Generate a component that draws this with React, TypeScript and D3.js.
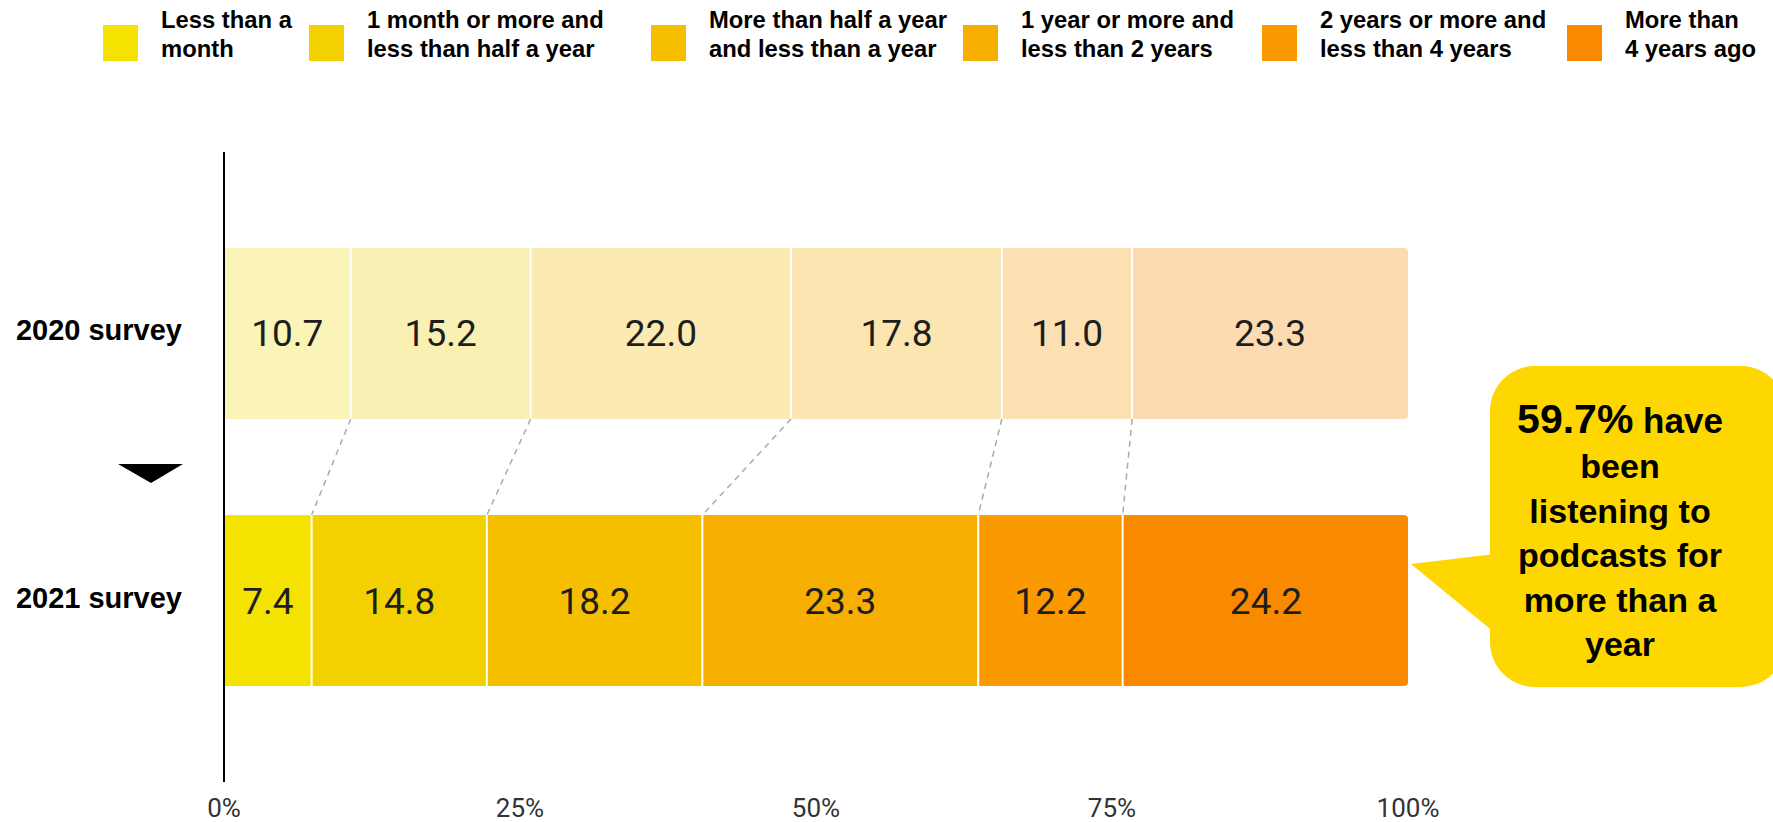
import React from "react";
import * as d3 from "d3";

const CATEGORIES = ["2020 survey", "2021 survey"];
const SERIES = [
  "Less than a month",
  "1 month or more and less than half a year",
  "More than half a year and less than a year",
  "1 year or more and less than 2 years",
  "2 years or more and less than 4 years",
  "More than 4 years ago",
];
const LEGEND_LINES = [
  ["Less than a", "month"],
  ["1 month or more and", "less than half a year"],
  ["More than half a year", "and less than a year"],
  ["1 year or more and", "less than 2 years"],
  ["2 years or more and", "less than 4 years"],
  ["More than", "4 years ago"],
];
const VALUES_2020 = [10.7, 15.2, 22.0, 17.8, 11.0, 23.3];
const VALUES_2021 = [7.4, 14.8, 18.2, 23.3, 12.2, 24.2];
const TICKS = [0, 25, 50, 75, 100];
const CALLOUT_LINES = ["been", "listening to", "podcasts for", "more than a", "year"];

const COLORS_2021 = ["#F4E200", "#F3D100", "#F5BF00", "#F6AF00", "#FA9A00", "#F98A00"];
const COLORS_2020 = ["#FAF4B6", "#FAF0B4", "#FBEBB3", "#FBE6B2", "#FCE0B2", "#FCDBB2"];

const W = 1773;
const H = 822;
const LEGEND_X = [103, 309, 651, 963, 1262, 1567];
const CALLOUT_CX = 1620;

export default function App() {
  const x = d3.scaleLinear().domain([0, 100]).range([224, 1408]);
  const y = d3.scaleBand().domain(CATEGORIES).range([248, 686]).paddingInner(0.36).paddingOuter(0);
  const bw = y.bandwidth();
  const allValues = [VALUES_2020, VALUES_2021];
  const allColors = [COLORS_2020, COLORS_2021];

  const stacks = allValues.map((vals) => {
    let c = 0;
    return vals.map((v) => {
      const s = c;
      c += v;
      return { v, s, e: c };
    });
  });

  const y20 = y(CATEGORIES[0])!;
  const y21 = y(CATEGORIES[1])!;

  return (
    <svg width={W} height={H} style={{ position: "absolute", left: 0, top: 0, background: "#fff" }}>
      <defs>
        {CATEGORIES.map((c, i) => (
          <clipPath id={`clip${i}`} key={c}>
            <rect x={x(0) - 10} y={y(c)} width={x(100) - x(0) + 10} height={bw} rx={4} />
          </clipPath>
        ))}
      </defs>

      {/* legend */}
      {SERIES.map((s, i) => (
        <g key={s}>
          <rect x={LEGEND_X[i]} y={25} width={35} height={36} fill={COLORS_2021[i]} />
          <text
            fontFamily="'Liberation Sans', Arial, sans-serif"
            fontWeight="bold"
            fontSize={23.8}
            fill="#000"
          >
            <tspan x={LEGEND_X[i] + 58} y={28}>{LEGEND_LINES[i][0]}</tspan>
            <tspan x={LEGEND_X[i] + 58} y={57}>{LEGEND_LINES[i][1]}</tspan>
          </text>
        </g>
      ))}

      {/* bars */}
      {CATEGORIES.map((c, ci) => (
        <g key={c} clipPath={`url(#clip${ci})`}>
          {stacks[ci].map((d, i) => (
            <rect
              key={i}
              x={x(d.s)}
              y={y(c)}
              width={x(d.e) - x(d.s)}
              height={bw}
              fill={allColors[ci][i]}
            />
          ))}
          {stacks[ci].slice(0, -1).map((d, i) => (
            <line
              key={"sep" + i}
              x1={x(d.e)}
              x2={x(d.e)}
              y1={y(c)}
              y2={y(c)! + bw}
              stroke="#fff"
              strokeWidth={2}
            />
          ))}
        </g>
      ))}

      {/* value labels */}
      {CATEGORIES.map((c, ci) =>
        stacks[ci].map((d, i) => (
          <text
            key={c + i}
            x={(x(d.s) + x(d.e)) / 2}
            y={y(c)! + bw / 2 + 13}
            textAnchor="middle"
            fontFamily="Roboto, sans-serif"
            fontSize={37}
            fill="#1e1e1e"
          >
            {d.v.toFixed(1)}
          </text>
        ))
      )}

      {/* dashed connectors */}
      {stacks[0].slice(0, -1).map((d, i) => (
        <line
          key={"dash" + i}
          x1={x(d.e)}
          y1={y20 + bw}
          x2={x(stacks[1][i].e)}
          y2={y21}
          stroke="#aaaaaa"
          strokeWidth={1.5}
          strokeDasharray="6 5"
        />
      ))}

      {/* axis line */}
      <line x1={x(0)} x2={x(0)} y1={152} y2={782} stroke="#000" strokeWidth={2} />

      {/* category labels */}
      {CATEGORIES.map((c) => (
        <text
          key={c}
          x={182}
          y={y(c)! + bw / 2 + 7}
          textAnchor="end"
          fontFamily="'Liberation Sans', Arial, sans-serif"
          fontWeight="bold"
          fontSize={29}
          fill="#000"
        >
          {c}
        </text>
      ))}

      {/* arrow */}
      <polygon points="118,464 183,464 151,483" fill="#000" />

      {/* tick labels */}
      {TICKS.map((t) => (
        <text
          key={t}
          x={x(t)}
          y={817}
          textAnchor="middle"
          fontFamily="Roboto, sans-serif"
          fontSize={26}
          fill="#333"
        >
          {t}%
        </text>
      ))}

      {/* callout */}
      <g>
        <rect x={1490} y={366} width={296} height={321} rx={45} fill="#FED700" />
        <polygon points={`1495,554 ${x(100) + 3},564 1495,633`} fill="#FED700" />
        <text
          x={CALLOUT_CX}
          y={433}
          textAnchor="middle"
          fontFamily="'Liberation Sans', Arial, sans-serif"
          fontWeight="bold"
          fill="#000"
        >
          <tspan fontSize={41}>59.7%</tspan>
          <tspan fontSize={35}> have</tspan>
        </text>
        {CALLOUT_LINES.map((l, i) => (
          <text
            key={l}
            x={CALLOUT_CX}
            y={478 + i * 44.5}
            textAnchor="middle"
            fontFamily="'Liberation Sans', Arial, sans-serif"
            fontWeight="bold"
            fontSize={34}
            fill="#000"
          >
            {l}
          </text>
        ))}
      </g>
    </svg>
  );
}
